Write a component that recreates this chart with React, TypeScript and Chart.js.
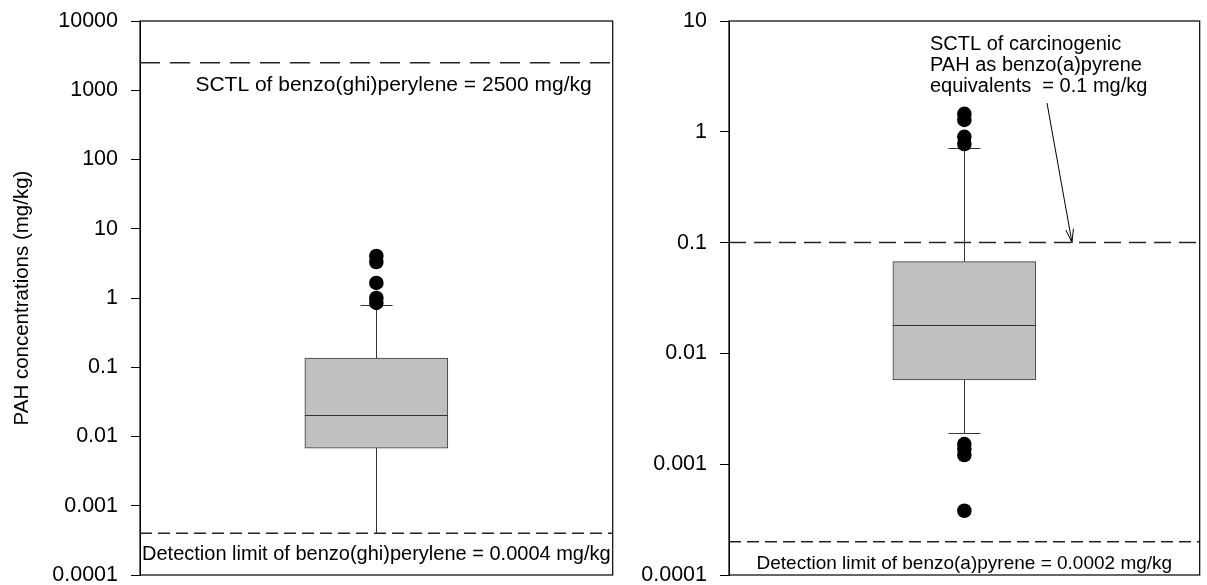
import React, { useEffect, useRef } from "react";
import { Chart, registerables } from "chart.js";

Chart.register(...registerables);

const FONT = "'Liberation Sans', Arial, Helvetica, sans-serif";

// Left panel: benzo(ghi)perylene
const ghiCategory = ["benzo(ghi)perylene"];
const ghiQuartiles = [0.0068, 0.136]; // Q1, Q3
const ghiMedian = 0.0204;
const ghiWhiskers = [0.0004, 0.8]; // low, high
const ghiOutliers = [4.04, 3.31, 1.65, 1.0, 0.85];
const ghiTicks = [0.0001, 0.001, 0.01, 0.1, 1, 10, 100, 1000, 10000];
const ghiTickLabels = ["0.0001", "0.001", "0.01", "0.1", "1", "10", "100", "1000", "10000"];
const ghiSctl = 2500;
const ghiDetection = 0.0004;
const ghiSctlText = "SCTL of benzo(ghi)perylene = 2500 mg/kg";
const ghiDetectionText = "Detection limit of benzo(ghi)perylene = 0.0004 mg/kg";

// Right panel: carcinogenic PAH as benzo(a)pyrene equivalents
const bapCategory = ["benzo(a)pyrene equivalents"];
const bapQuartiles = [0.00575, 0.0673];
const bapMedian = 0.018;
const bapWhiskers = [0.0019, 0.714];
const bapOutliers = [1.45, 1.28, 0.9, 0.776, 0.00152, 0.00137, 0.00121, 0.00038];
const bapTicks = [0.0001, 0.001, 0.01, 0.1, 1, 10];
const bapTickLabels = ["0.0001", "0.001", "0.01", "0.1", "1", "10"];
const bapSctl = 0.1;
const bapDetection = 0.0002;
const bapSctlText = ["SCTL of carcinogenic", "PAH as benzo(a)pyrene", "equivalents  = 0.1 mg/kg"];
const bapDetectionText = "Detection limit of benzo(a)pyrene = 0.0002 mg/kg";

const yTitle = "PAH concentrations (mg/kg)";

const PLOT_WIDTH = 476;

type PanelProps = {
  left: number;
  width: number;
  axisWidth: number;
  category: string[];
  quartiles: number[];
  median: number;
  whiskers: number[];
  outliers: number[];
  ticks: number[];
  tickLabels: string[];
  sctl: number;
  detection: number;
  lowerCap: boolean;
  showTitle: boolean;
  sctlDash: number[];
  drawNotes: (ctx: CanvasRenderingContext2D, chart: any) => void;
  detectionText: string;
  detectionFont: number;
};

function hLine(ctx: CanvasRenderingContext2D, x1: number, x2: number, y: number) {
  ctx.beginPath();
  ctx.moveTo(x1, y);
  ctx.lineTo(x2, y);
  ctx.stroke();
}

function Panel(p: PanelProps) {
  const ref = useRef<HTMLCanvasElement | null>(null);

  useEffect(() => {
    if (!ref.current) return;

    const extras = {
      id: "boxExtras",
      beforeDatasetsDraw(chart: any) {
        const { ctx, chartArea: a, scales } = chart;
        const x = scales.x;
        const y = scales.y;
        const cx = Math.round(x.getPixelForValue(0)) + 0.5;
        ctx.save();
        // reference lines
        ctx.strokeStyle = "#222";
        ctx.lineWidth = 1.5;
        ctx.setLineDash(p.sctlDash);
        hLine(ctx, a.left, a.right, y.getPixelForValue(p.sctl));
        ctx.setLineDash([12, 6]);
        hLine(ctx, a.left, a.right, y.getPixelForValue(p.detection));
        ctx.setLineDash([]);
        // whiskers and caps
        ctx.strokeStyle = "#333";
        ctx.lineWidth = 1;
        ctx.beginPath();
        ctx.moveTo(cx, y.getPixelForValue(p.quartiles[1]));
        ctx.lineTo(cx, y.getPixelForValue(p.whiskers[1]));
        ctx.moveTo(cx, y.getPixelForValue(p.quartiles[0]));
        ctx.lineTo(cx, y.getPixelForValue(p.whiskers[0]));
        ctx.stroke();
        const hi = Math.round(y.getPixelForValue(p.whiskers[1])) + 0.5;
        hLine(ctx, cx - 16, cx + 16, hi);
        if (p.lowerCap) {
          const lo = Math.round(y.getPixelForValue(p.whiskers[0])) + 0.5;
          hLine(ctx, cx - 16, cx + 16, lo);
        }
        ctx.restore();
      },
      afterDatasetsDraw(chart: any) {
        const { ctx, chartArea: a, scales } = chart;
        const x = scales.x;
        const y = scales.y;
        const cx = x.getPixelForValue(0);
        ctx.save();
        // median
        ctx.strokeStyle = "#333";
        ctx.lineWidth = 1;
        const my = Math.round(y.getPixelForValue(p.median)) + 0.5;
        hLine(ctx, cx - 71.5, cx + 71.5, my);
        // frame
        ctx.strokeStyle = "#000";
        ctx.lineWidth = 1.2;
        ctx.strokeRect(a.left, a.top, a.right - a.left, a.bottom - a.top);
        // texts
        ctx.fillStyle = "#000";
        ctx.font = `${p.detectionFont}px ${FONT}`;
        ctx.textAlign = "center";
        ctx.textBaseline = "alphabetic";
        ctx.fillText(p.detectionText, (a.left + a.right) / 2, y.getPixelForValue(p.detection) + 27);
        ctx.font = `20px ${FONT}`;
        p.drawNotes(ctx, chart);
        ctx.restore();
      },
    };

    const chart = new Chart(ref.current, {
      type: "bar",
      data: {
        labels: p.category,
        datasets: [
          {
            type: "bar",
            data: [p.quartiles as any],
            backgroundColor: "#c0c0c0",
            borderColor: "#3a3a3a",
            borderWidth: 1,
            borderSkipped: false,
            barThickness: 143,
          } as any,
          {
            type: "scatter",
            data: p.outliers.map((v) => ({ x: p.category[0], y: v })),
            pointRadius: 7.3,
            pointHoverRadius: 7.3,
            backgroundColor: "#000",
            borderColor: "#000",
            borderWidth: 0,
          } as any,
        ],
      },
      plugins: [extras],
      options: {
        responsive: false,
        animation: false,
        devicePixelRatio: 1,
        layout: { padding: { top: 21, bottom: 10, left: 0, right: p.width - p.axisWidth - PLOT_WIDTH } },
        plugins: { legend: { display: false }, tooltip: { enabled: false } },
        scales: {
          x: { type: "category", display: false },
          y: {
            type: "logarithmic",
            min: p.ticks[0],
            max: p.ticks[p.ticks.length - 1],
            afterBuildTicks: (s: any) => {
              s.ticks = p.ticks.map((v) => ({ value: v }));
            },
            afterFit: (s: any) => {
              s.width = p.axisWidth;
              s.paddingTop = 0;
              s.paddingBottom = 0;
              s.paddingLeft = 0;
              s.paddingRight = 0;
            },
            border: { display: true, color: "#000", width: 1 },
            grid: { drawOnChartArea: false, drawTicks: true, tickLength: 9, color: "#000" },
            ticks: {
              color: "#000",
              font: { family: FONT, size: 21.5 },
              padding: 13,
              autoSkip: false,
              callback: (v: any) => {
                const i = p.ticks.findIndex((t) => Math.abs(t - Number(v)) / t < 1e-6);
                return i >= 0 ? p.tickLabels[i] : "";
              },
            },
            title: {
              display: p.showTitle,
              text: yTitle,
              color: "#000",
              font: { family: FONT, size: 20.5 },
              padding: { top: 9.7, bottom: 0 },
            },
          },
        },
      } as any,
    });

    // keep the plot area at its intended right edge
    const wantRight = p.axisWidth + PLOT_WIDTH;
    const diff = chart.chartArea.right - wantRight;
    if (Math.abs(diff) > 0.25) {
      (chart.options as any).layout.padding.right += diff;
      chart.update();
    }

    return () => chart.destroy();
  }, []);

  return (
    <canvas
      ref={ref}
      width={p.width}
      height={585}
      style={{ position: "absolute", left: p.left, top: 0, width: p.width, height: 585 }}
    />
  );
}

function ghiNotes(ctx: CanvasRenderingContext2D, chart: any) {
  const a = chart.chartArea;
  const y = chart.scales.y;
  ctx.font = `21px ${FONT}`;
  ctx.textAlign = "right";
  ctx.fillText(ghiSctlText, a.right - 21, y.getPixelForValue(ghiSctl) + 28);
}

function bapNotes(ctx: CanvasRenderingContext2D, chart: any) {
  const a = chart.chartArea;
  const y = chart.scales.y;
  ctx.textAlign = "left";
  const tx = a.left + 201;
  bapSctlText.forEach((line, i) => ctx.fillText(line, tx, a.top + 29 + i * 21));
  // pointer from the note down to the SCTL line
  const x0 = a.left + 318;
  const y0 = a.top + 82;
  const x1 = a.left + 343;
  const y1 = y.getPixelForValue(bapSctl);
  ctx.strokeStyle = "#000";
  ctx.lineWidth = 1;
  ctx.beginPath();
  ctx.moveTo(x0, y0);
  ctx.lineTo(x1, y1);
  const ang = Math.atan2(y1 - y0, x1 - x0);
  const len = 14;
  ctx.moveTo(x1 - len * Math.cos(ang - 0.28), y1 - len * Math.sin(ang - 0.28));
  ctx.lineTo(x1, y1);
  ctx.lineTo(x1 - len * Math.cos(ang + 0.28), y1 - len * Math.sin(ang + 0.28));
  ctx.stroke();
}

export default function App() {
  return (
    <div style={{ position: "fixed", left: 0, top: 0, width: 1207, height: 585, background: "#fff", overflow: "hidden" }}>
      <Panel
        left={0}
        width={620}
        axisWidth={140}
        category={ghiCategory}
        quartiles={ghiQuartiles}
        median={ghiMedian}
        whiskers={ghiWhiskers}
        outliers={ghiOutliers}
        ticks={ghiTicks}
        tickLabels={ghiTickLabels}
        sctl={ghiSctl}
        detection={ghiDetection}
        lowerCap={false}
        showTitle={true}
        sctlDash={[20, 10]}
        drawNotes={ghiNotes}
        detectionText={ghiDetectionText}
        detectionFont={20}
      />
      <Panel
        left={620}
        width={587}
        axisWidth={109}
        category={bapCategory}
        quartiles={bapQuartiles}
        median={bapMedian}
        whiskers={bapWhiskers}
        outliers={bapOutliers}
        ticks={bapTicks}
        tickLabels={bapTickLabels}
        sctl={bapSctl}
        detection={bapDetection}
        lowerCap={true}
        showTitle={false}
        sctlDash={[17, 8]}
        drawNotes={bapNotes}
        detectionText={bapDetectionText}
        detectionFont={19}
      />
    </div>
  );
}
